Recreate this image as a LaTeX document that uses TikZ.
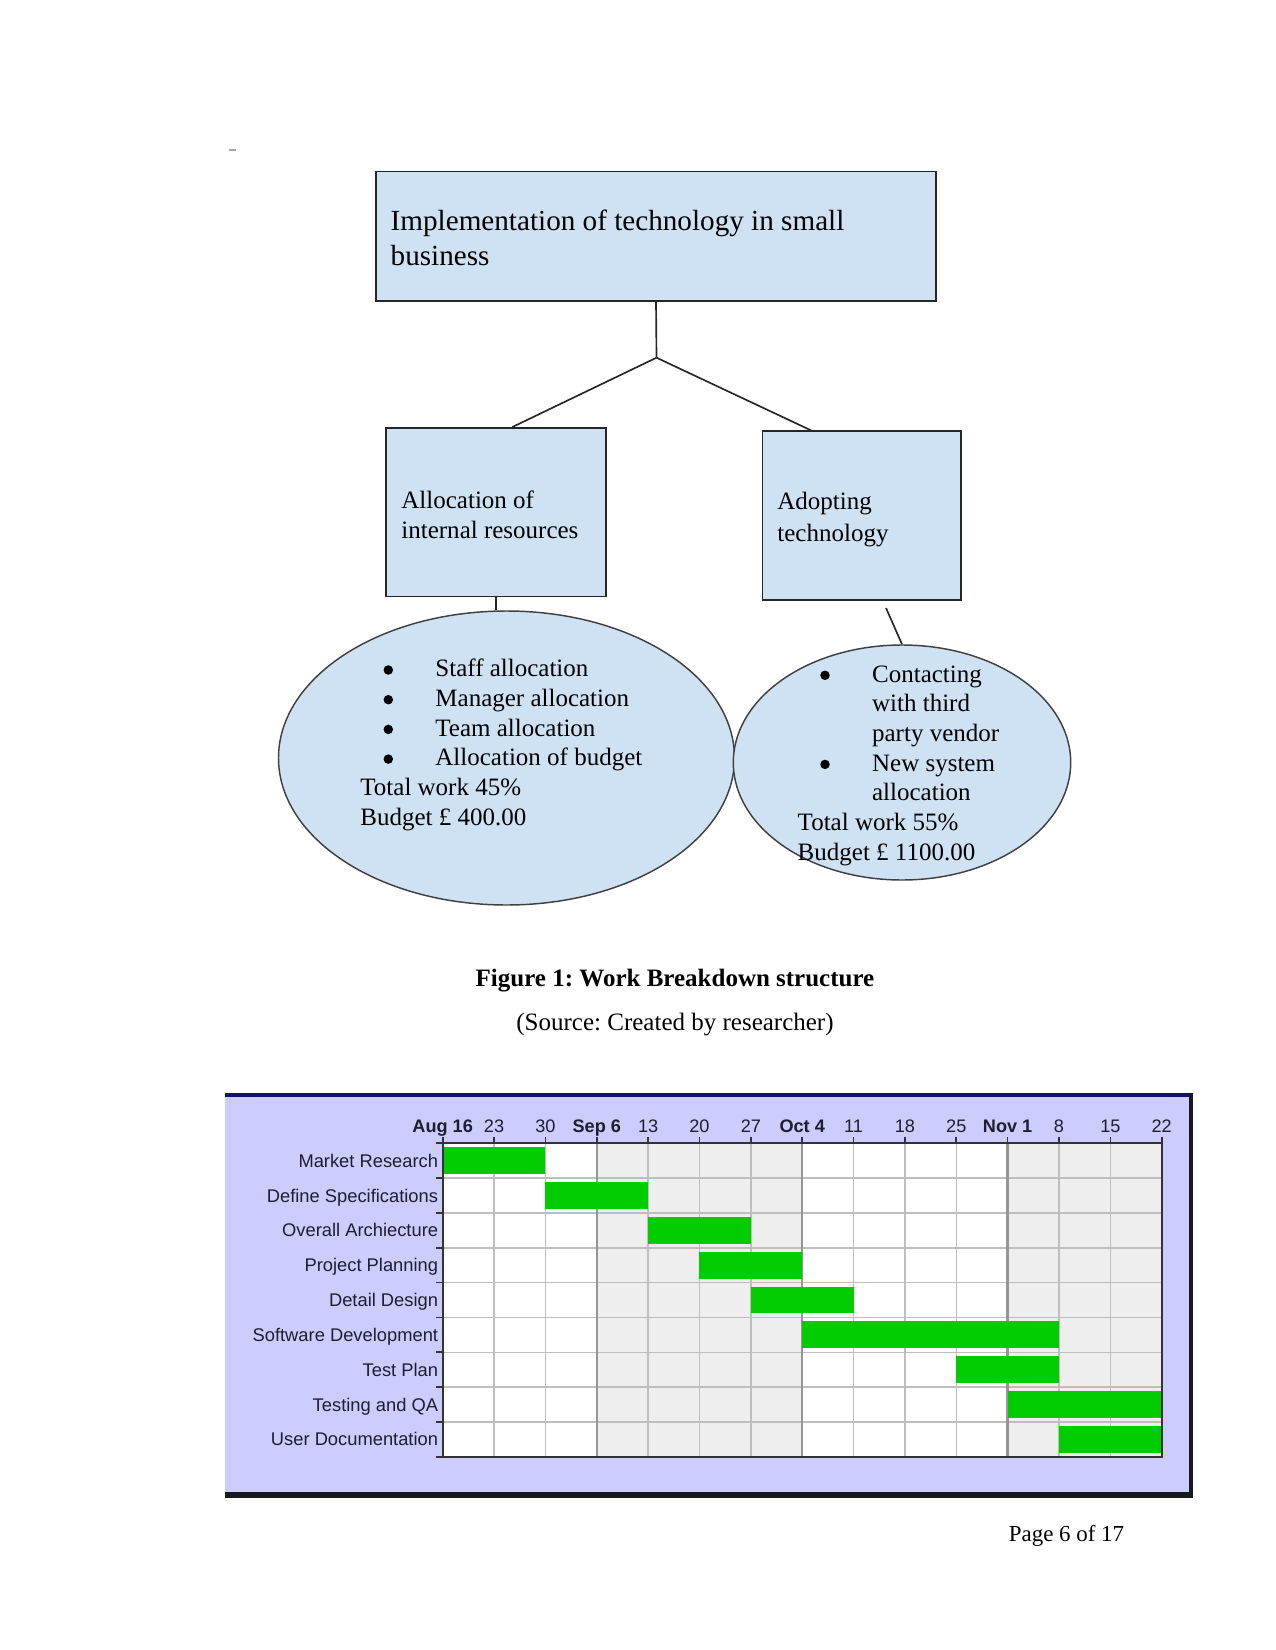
\documentclass[tikz,border=0pt]{standalone}
\usepackage{fontspec}
\setmainfont{Liberation Serif}
\newfontfamily\gfont{Liberation Sans}
\usetikzlibrary{shapes.geometric,calc}
\frenchspacing
\def\px{0.48pt}
\definecolor{boxblue}{RGB}{207,226,243}
\definecolor{lav}{RGB}{204,204,255}
\definecolor{navy}{RGB}{16,16,120}
\definecolor{dk}{RGB}{24,24,30}
\definecolor{shadecol}{RGB}{238,238,238}
\definecolor{gridcol}{RGB}{190,190,190}
\definecolor{monthcol}{RGB}{150,150,150}
\definecolor{bargreen}{RGB}{0,204,0}
\definecolor{gtext}{RGB}{30,30,45}
\tikzset{
  wbox/.style={draw=black!85, fill=boxblue, line width=0.9pt, inner sep=0pt},
  ell/.style={ellipse, draw=black!75, fill=boxblue, line width=0.7pt, inner sep=0pt},
  conn/.style={draw=black!85, line width=0.8pt},
  wtext/.style={anchor=base west, inner sep=0pt, font=\fontsize{12}{14}\selectfont},
  ttext/.style={anchor=base west, inner sep=0pt, font=\fontsize{14}{16}\selectfont},
  bul/.style={circle, fill=black, inner sep=0pt, minimum size={9.5*\px}},
  glab/.style={anchor=base east, inner sep=0pt, text=gtext, font=\gfont\fontsize{8.8}{10}\selectfont},
  gtick/.style={anchor=base, inner sep=0pt, text=gtext, font=\gfont\fontsize{8.7}{10}\selectfont},
  gtickb/.style={gtick, font=\gfont\bfseries\fontsize{8.7}{10}\selectfont},
  gridline/.style={draw=gridcol, line width=0.7pt},
  monthline/.style={draw=monthcol, line width=1.1pt},
  axisline/.style={draw=black!80, line width=0.8pt},
}
\begin{document}
\begin{tikzpicture}[x=0.48pt,y=-0.48pt]
\useasboundingbox (0,0) rectangle (1275,1650);
\draw[gray!70, line width=0.5pt] (229,150) -- (236,150);

% ---------- Work breakdown structure ----------
\node[wbox, minimum width={560.7*\px}, minimum height={129.4*\px}] (top) at (656,236.2) {};
\node[ttext] (toptxt1) at (390.3,231) {Implementation of technology in small};
\node[ttext] (toptxt2) at (390.3,266) {business};

\node[wbox, minimum width={220*\px}, minimum height={168.5*\px}] (lb) at (496,512.25) {};
\node[wtext] (lbt1) at (401,508.7) {Allocation of};
\node[wtext] (lbt2) at (401,538) {internal resources};

\node[wbox, minimum width={198.5*\px}, minimum height={168.7*\px}] (rb) at (861.75,515.65) {};
\node[wtext] (rbt1) at (777,509) {Adopting};
\node[wtext] (rbt2) at (777,541) {technology};

\coordinate (J) at (656.5,357.7);
\draw[conn] (top.south) -- (J);
\draw[conn] (J) -- ($(lb.north)+(16.3,0)$);
\draw[conn] (J) -- ($(rb.north)+(-50.75,0)$);

\node[ell, minimum width={456*\px}, minimum height={294*\px}] (le) at (506.5,758) {};
\node[ell, minimum width={337.4*\px}, minimum height={235*\px}] (re) at (902,762.5) {};
\draw[conn] (lb.south) -- (lb.south |- le.north);
\coordinate (rfree) at (886,608);
\draw[conn] (rfree) -- (re.north);

% left ellipse text
\node[bul] (lbu1) at (388.3,670) {};
\node[bul] (lbu2) at (388.3,699.7) {};
\node[bul] (lbu3) at (388.3,729.4) {};
\node[bul] (lbu4) at (388.3,759.1) {};
\node[wtext] (le1) at (435,676.7) {Staff allocation};
\node[wtext] (le2) at (435,706.4) {Manager allocation};
\node[wtext] (le3) at (435,736.1) {Team allocation};
\node[wtext] (le4) at (435,765.8) {Allocation of budget};
\node[wtext] (le5) at (360,795.5) {Total work 45\%};
\node[wtext] (le6) at (360,825.2) {Budget £ 400.00};

% right ellipse text
\node[bul] (rbu1) at (825,675.3) {};
\node[bul] (rbu2) at (825,764.4) {};
\node[wtext] (re1) at (871.7,682) {Contacting};
\node[wtext] (re2) at (871.7,711.7) {with third};
\node[wtext] (re3) at (871.7,741.4) {party vendor};
\node[wtext] (re4) at (871.7,771.1) {New system};
\node[wtext] (re5) at (871.7,800.8) {allocation};
\node[wtext] (re6) at (797.3,830.5) {Total work 55\%};
\node[wtext] (re7) at (797.3,860.2) {Budget £ 1100.00};

% caption
\node[anchor=base, inner sep=0pt, font=\bfseries\fontsize{12}{14}\selectfont] (cap) at (675,986) {Figure 1: Work Breakdown structure};
\node[anchor=base, inner sep=0pt, font=\fontsize{12}{14}\selectfont] (src) at (675,1030) {(Source: Created by researcher)};

% ---------- Gantt chart ----------
\def\gx{442.7}\def\gdx{51.357}\def\gy{1143.3}\def\gdy{34.82}
\fill[lav] (225,1095) rectangle (1191,1494);
\fill[navy] (225,1092.7) rectangle (1193.3,1097.3);
\fill[dk] (1189.3,1093) rectangle (1193.3,1498.3);
\fill[dk] (225,1491.7) rectangle (1193.3,1498.3);

\fill[white] (\gx,\gy) rectangle ({\gx+14*\gdx},{\gy+9*\gdy});
\fill[shadecol] ({\gx+3*\gdx},\gy) rectangle ({\gx+7*\gdx},{\gy+9*\gdy});
\fill[shadecol] ({\gx+11*\gdx},\gy) rectangle ({\gx+14*\gdx},{\gy+9*\gdy});
\foreach \i in {1,2,4,5,6,8,9,10,12,13}
  \draw[gridline] ({\gx+\i*\gdx},\gy) -- ({\gx+\i*\gdx},{\gy+9*\gdy});
\foreach \j in {1,...,8}
  \draw[gridline] (\gx,{\gy+\j*\gdy}) -- ({\gx+14*\gdx},{\gy+\j*\gdy});
\foreach \i in {3,7,11}
  \draw[monthline] ({\gx+\i*\gdx},\gy) -- ({\gx+\i*\gdx},{\gy+9*\gdy});

\foreach \r/\a/\b in {0/0/2,1/2/4,2/4/6,3/5/7,4/6/8,5/7/12,6/10/12,7/11/14,8/12/14}
  \fill[bargreen] ({\gx+\a*\gdx},{\gy+\r*\gdy+4}) rectangle ({\gx+\b*\gdx},{\gy+(\r+1)*\gdy-4});

\draw[axisline] (\gx,\gy) rectangle ({\gx+14*\gdx},{\gy+9*\gdy});
\foreach \i in {0,...,14}
  \draw[axisline] ({\gx+\i*\gdx},\gy) -- ({\gx+\i*\gdx},{\gy-6});
\foreach \j in {0,...,9}
  \draw[axisline] (\gx,{\gy+\j*\gdy}) -- ({\gx-6.5},{\gy+\j*\gdy});

\foreach \i/\t in {0/Aug 16,3/Sep 6,7/Oct 4,11/Nov 1}
  \node[gtickb] (tb\i) at ({\gx+\i*\gdx},1132) {\t};
\foreach \i/\t in {1/23,2/30,4/13,5/20,6/27,8/11,9/18,10/25,12/8,13/15,14/22}
  \node[gtick] (tn\i) at ({\gx+\i*\gdx},1132) {\t};

\foreach \j/\t in {0/Market Research,1/Define Specifications,2/Overall Archiecture,3/Project Planning,4/Detail Design,5/Software Development,6/Test Plan,7/Testing and QA,8/User Documentation}
  \node[glab] (row\j) at (438.5,{\gy+(\j+0.5)*\gdy+6.6}) {\t};

% page number
\node[anchor=base east, inner sep=0pt, font=\fontsize{11}{13}\selectfont] (pg) at (1124.5,1541.7) {Page 6 of 17};
\end{tikzpicture}
\end{document}
